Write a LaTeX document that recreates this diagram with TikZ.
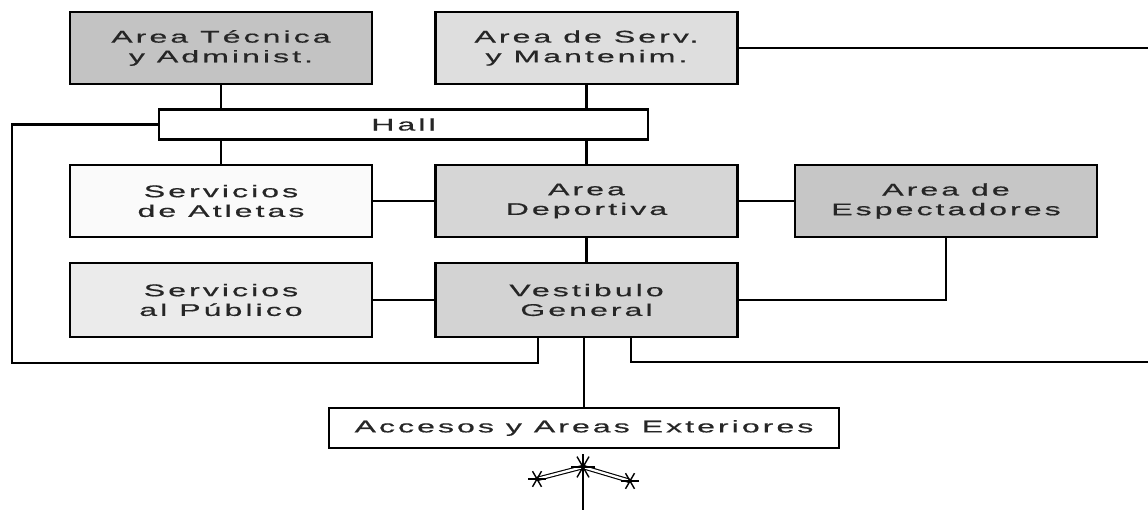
\documentclass[tikz,border=0pt]{standalone}
\usepackage{fontspec}
\setmainfont{Liberation Sans}[FakeStretch=1.9,LetterSpace=18,FakeBold=0.6]
\definecolor{tecfill}{HTML}{C3C3C3}
\definecolor{servfill}{HTML}{DEDEDE}
\definecolor{atlfill}{HTML}{FAFAFA}
\definecolor{depfill}{HTML}{D6D6D6}
\definecolor{espfill}{HTML}{C6C6C6}
\definecolor{pubfill}{HTML}{EBEBEB}
\definecolor{vestfill}{HTML}{D3D3D3}
\tikzset{
  area/.style={
    draw,
    rectangle,
    line width=2pt,
    inner sep=0pt,
    minimum width=7.55cm,
    minimum height=1.8cm,
    align=center,
    text=black!85,
    font=\fontsize{12pt}{14pt}\selectfont,
  },
  bar/.style={
    area,
    fill=white,
    minimum height=0.75cm,
  },
  link/.style={
    draw,
    line width=1.6pt,
  },
}

\begin{document}
\begin{tikzpicture}[x=0.025cm,y=-0.025cm]
  \useasboundingbox (0,0) rectangle (1148,510);
  % top row and hall
  \node[area,fill=tecfill] (tec) at (221,48) {Area Técnica\\y Administ.};
  \node[area,fill=servfill] (serv) at (586.5,48) {Area de Serv.\\y Mantenim.};
  \node[bar,minimum width=12.225cm] (hall) at (403.5,124.5) {Hall};
  % middle rows
  \node[area,fill=atlfill] (atl) at (221,201) {Servicios\\de Atletas};
  \node[area,fill=depfill] (dep) at (586.5,201) {Area\\Deportiva};
  \node[area,fill=espfill] (esp) at (946,201) {Area de\\Espectadores};
  \node[area,fill=pubfill,minimum height=1.85cm] (pub) at (221,300) {Servicios\\al Público};
  \node[area,fill=vestfill,minimum height=1.85cm] (vest) at (586.5,300) {Vestibulo\\General};
  \node[bar,minimum width=12.75cm,minimum height=1cm] (acc) at (584,428) {Accesos y Areas Exteriores};

  \coordinate (servout) at (1148,48);
  \coordinate (loopl) at (12,363);
  \coordinate (vestl) at (538,363);
  \coordinate (vestr) at (631,362);
  \coordinate (eastout) at (1148,362);
  \coordinate (entrytop) at (583,454);
  \coordinate (entry) at (583,467);
  \coordinate (entryl) at (537,479);
  \coordinate (entryr) at (630,481);
  \coordinate (entrybot) at (583,510);

  % connectors
  \draw[link] (tec) -- (tec |- hall.north);
  \draw[link] (serv) -- (serv |- hall.north);
  \draw[link] (serv.east) -- (servout);
  \draw[link] (hall.south -| atl) -- (atl);
  \draw[link] (hall.south -| dep) -- (dep);
  \draw[link] (hall.west) -| (loopl) -- (vestl) -- (vestl |- vest.south);
  \draw[link] (atl) -- (dep);
  \draw[link] (dep) -- (esp);
  \draw[link] (dep) -- (vest);
  \draw[link] (pub) -- (vest);
  \draw[link] (vest.east) -| (esp.south);
  \draw[link] (vest.south -| vestr) -- (vestr) -- (eastout);
  \draw[link] (vest.south -| acc) -- (acc);

  % entrance mark
  \draw[line width=0.8pt,double,double distance=1.6pt] (entry) -- (entryl);
  \draw[line width=0.8pt,double,double distance=1.6pt] (entry) -- (entryr);
  \draw[link] (entrytop) -- (entrybot);
  \foreach \p/\r in {entry/12,entryl/9,entryr/9}
    \foreach \a in {0,60,120}
      \draw[line width=1pt] (\p) ++(\a:\r) -- ++(\a+180:2*\r);
\end{tikzpicture}
\end{document}
